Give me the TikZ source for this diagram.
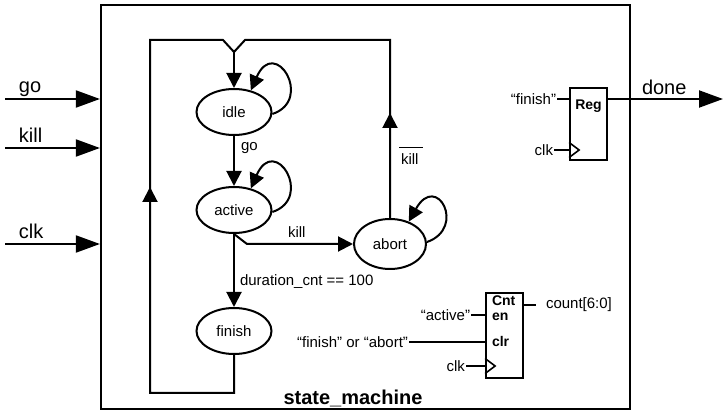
\documentclass[tikz,border=0pt]{standalone}
\usepackage{fontspec}
\setmainfont{Liberation Sans}
\usetikzlibrary{arrows.meta,shapes.geometric}
\begin{document}
\begin{tikzpicture}[x=1pt,y=-1pt,line width=2pt,
  every node/.style={font=\fontsize{15}{17}\selectfont},
  state/.style={ellipse,draw,line width=2pt,minimum width=75pt,minimum height=46pt,inner sep=0pt},
  arr/.style={-{Triangle[length=15pt,width=15pt]}},
  bigarr/.style={-{Triangle[length=24pt,width=17pt]}},
  big/.style={font=\fontsize{20}{22}\selectfont,inner sep=0pt},
  bl/.style={font=\bfseries\fontsize{14}{16}\selectfont,inner sep=0pt},
  txt/.style={inner sep=0pt},
  blk/.style={draw,line width=1.8pt,inner sep=0pt},
  clock/.style={line width=1.6pt},
  selfloop/.style={arr}
]
\useasboundingbox (0,0) rectangle (724,414);
% outer box
\node[draw,line width=2.2pt,minimum width=529pt,minimum height=404pt,inner sep=0pt] (sm) at (365.5,207) {};
\node[font=\bfseries\fontsize{20}{22}\selectfont,anchor=base,inner sep=0pt] (smlbl) at (353,405) {state\_machine};

% inputs
\coordinate (goS) at (5,99);
\coordinate (killS) at (5,148);
\coordinate (clkS) at (5,244);
\draw[bigarr] (goS) -- (goS -| sm.west);
\draw[bigarr] (killS) -- (killS -| sm.west);
\draw[bigarr] (clkS) -- (clkS -| sm.west);
\node[big,anchor=base west] (golbl) at (18,93) {go};
\node[big,anchor=base west] (killlbl) at (18,143) {kill};
\node[big,anchor=base west] (clklbl) at (18,239) {clk};

% states
\node[state] (idle) at (234,112) {idle};
\node[state] (active) at (234,210) {active};
\node[state] (finish) at (234,331) {finish};
\node[state,minimum width=72pt,minimum height=50pt] (abort) at (390,244) {abort};

% transitions
\draw[arr] (idle) -- (active);
\node[txt,anchor=base west] (golab) at (240,151) {go};
\draw[arr] (active) -- (finish);
\node[txt,anchor=base west] (durlab) at (239,286) {duration\_cnt == 100};
\coordinate (kbend) at (247,244);
\draw[arr] (active.south) -- (kbend) -- (abort.west);
\node[txt,anchor=base west] (killlab) at (287,238) {kill};

% return paths
\coordinate (fb) at (234,393);
\coordinate (lb) at (150,393);
\coordinate (la) at (150,187);
\coordinate (lt) at (150,40);
\coordinate (v1) at (223,40);
\coordinate (vm) at (234,52);
\coordinate (v2) at (245,40);
\coordinate (rt) at (390,40);
\coordinate (ra) at (390,113);
\draw (finish.south) -- (fb) -- (lb) -- (lt) -- (v1) -- (vm) -- (v2) -- (rt) -- (abort.north);
\draw[arr] (lb) -- (la);
\draw[arr] (abort.north) -- (ra);
\draw[arr] (vm) -- (idle.north);
\node[txt,anchor=base west] (nkill) at (400,165) {kill};
\draw[line width=1.3pt] ([xshift=-1pt,yshift=5.5pt]nkill.north west) -- ([xshift=3pt,yshift=5.5pt]nkill.north east);

% self loops
\draw[selfloop] (idle.-3) .. controls +(42,-14) and +(24,-55) .. (idle.52);
\draw[selfloop] (active.-3) .. controls +(42,-14) and +(24,-55) .. (active.52);
\draw[selfloop] (abort.3) .. controls +(40,-14) and +(28,-50) .. (abort.50);

% Reg
\node[blk,minimum width=37pt,minimum height=72pt] (reg) at (588.5,124) {};
\node[bl,anchor=base] (regl) at (588.5,110) {Reg};
\node[txt,anchor=east] (regin) at (557,99) {“finish”};
\draw (regin.east) -- (regin.east -| reg.west);
\node[txt,anchor=east] (regclk) at (554,150) {clk};
\draw (regclk.east) -- (regclk.east -| reg.west);
\coordinate (rc) at (reg.west |- regclk.east);
\draw[clock] (rc) ++(0,-7.5) -- ++(10,7.5) -- ++(-10,7.5);
\coordinate (doneend) at (723,99);
\draw[bigarr] (reg.east |- regin.east) -- (doneend);
\node[big,anchor=base west] (donel) at (641,95) {done};

% Cnt
\node[blk,minimum width=37pt,minimum height=85pt] (cnt) at (504.5,335.5) {};
\node[bl,anchor=base west] (cntl) at (491,306) {Cnt};
\node[bl,anchor=base west] (enl) at (491,321) {en};
\node[bl,anchor=base west] (clrl) at (491,347) {clr};
\node[txt,anchor=west] (cntout) at (545,305) {count[6:0]};
\draw (cntout.west -| cnt.east) -- ++(12,0);
\node[txt,anchor=east] (enin) at (471,315) {“active”};
\draw (enin.east) -- (enin.east -| cnt.west);
\node[txt,anchor=east] (clrin) at (409,342) {“finish” or “abort”};
\draw (clrin.east) -- (clrin.east -| cnt.west);
\node[txt,anchor=east] (cntclk) at (466,366) {clk};
\draw (cntclk.east) -- (cntclk.east -| cnt.west);
\coordinate (cc) at (cnt.west |- cntclk.east);
\draw[clock] (cc) ++(0,-7.5) -- ++(10,7.5) -- ++(-10,7.5);
\end{tikzpicture}
\end{document}
